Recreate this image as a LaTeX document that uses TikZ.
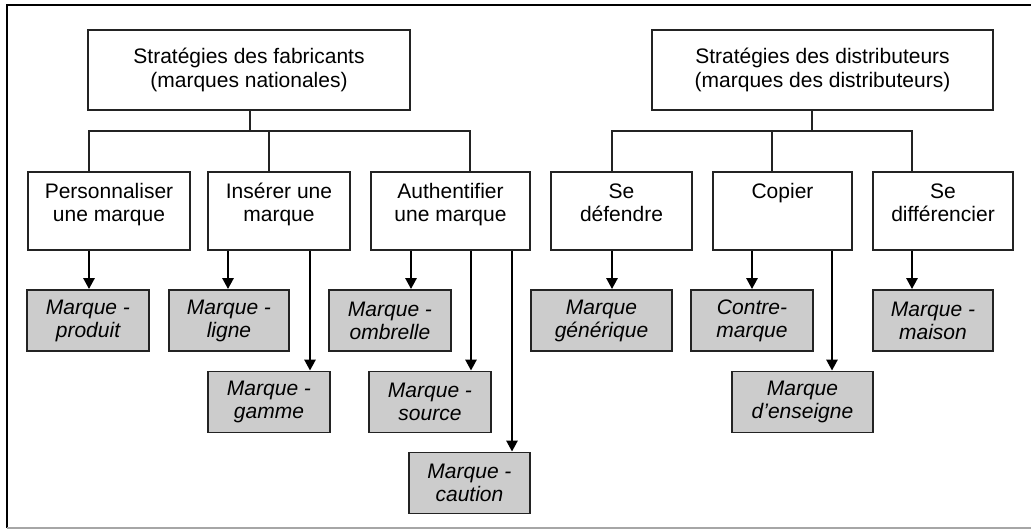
\documentclass[tikz,border=0pt]{standalone}
\usepackage{fontspec}
\setmainfont{Liberation Sans}
\usetikzlibrary{arrows.meta,calc}
\definecolor{boxgray}{RGB}{204,204,204}
\definecolor{edge}{RGB}{35,35,35}
\tikzset{
  topbox/.style={draw=edge,line width=1.6pt,fill=white,inner sep=0pt,align=center,
    font=\fontsize{21}{24}\selectfont},
  midbox/.style={draw=edge,line width=1.6pt,fill=white,inner sep=0pt,minimum height=78pt},
  lbl/.style={inner sep=0pt,align=center,anchor=north,font=\fontsize{21}{23}\selectfont},
  leaf/.style={draw=edge,line width=1.8pt,fill=boxgray,inner sep=0pt,minimum height=61pt,
    align=center,font=\fontsize{21}{23}\selectfont\itshape},
  tree/.style={draw=edge,line width=1.5pt},
  arr/.style={draw=black,line width=2.6pt,-{Triangle[width=11pt,length=11pt]}},
}
\begin{document}
\begin{tikzpicture}[x=1pt,y=-1pt]
\useasboundingbox (0,0) rectangle (1031,529);
% frame
\draw[black,line width=1.6pt] (1031,5) -- (7,5) -- (7,528);
\draw[gray!70,line width=1.6pt] (7,528) -- (1031,528);

% level 1
\node[topbox,minimum width=322pt,minimum height=80pt] (F) at (249,70)
  {Stratégies des fabricants\\(marques nationales)};
\node[topbox,minimum width=341pt,minimum height=80pt] (D) at (822.5,70)
  {Stratégies des distributeurs\\(marques des distributeurs)};

% level 2
\node[midbox,minimum width=162pt] (P) at (109,211) {};
\node[midbox,minimum width=142pt] (I) at (279,211) {};
\node[midbox,minimum width=159pt] (A) at (450.5,211) {};
\node[midbox,minimum width=141pt] (SD) at (621.5,211) {};
\node[midbox,minimum width=139pt] (C) at (782.5,211) {};
\node[midbox,minimum width=140pt] (SF) at (943,211) {};
\node[lbl] (Pt) at ($(P.north)+(0,12)$) {Personnaliser\\une marque};
\node[lbl] (It) at ($(I.north)+(0,12)$) {Insérer une\\marque};
\node[lbl] (At) at ($(A.north)+(0,12)$) {Authentifier\\une marque};
\node[lbl] (SDt) at ($(SD.north)+(0,12)$) {Se\\défendre};
\node[lbl] (Ct) at ($(C.north)+(0,12)$) {Copier};
\node[lbl] (SFt) at ($(SF.north)+(0,12)$) {Se\\différencier};

% level 3
\node[leaf,minimum width=122pt] (produit) at (88,320.5) {Marque -\\produit};
\node[leaf,minimum width=120pt] (ligne) at (229,320.5) {Marque -\\ligne};
\node[leaf,minimum width=122pt] (gamme) at (269,402) {Marque -\\gamme};
\node[leaf,minimum width=122pt] (ombrelle) at (390,320.5) {Marque -\\ombrelle};
\node[leaf,minimum width=122pt] (source) at (430,402) {Marque -\\source};
\node[leaf,minimum width=121pt] (caution) at (469.5,483) {Marque -\\caution};
\node[leaf,minimum width=141pt] (generique) at (601.5,320.5) {Marque\\générique};
\node[leaf,minimum width=122pt] (contre) at (752,320.5) {Contre-\\marque};
\node[leaf,minimum width=141pt] (enseigne) at (802.5,402) {Marque\\d’enseigne};
\node[leaf,minimum width=120pt] (maison) at (933,320.5) {Marque -\\maison};

% tree coordinates
\coordinate (fx) at (250,131);
\coordinate (f1) at (89,131);
\coordinate (f2) at (269,131);
\coordinate (f3) at (470,131);
\coordinate (dx) at (812,131);
\coordinate (d1) at (612,131);
\coordinate (d2) at (772,131);
\coordinate (d3) at (912,131);
\draw[tree] (F.south -| fx) -- (fx);
\draw[tree] (P.north -| f1) -- (f1) -- (f3) -- (A.north -| f3);
\draw[tree] (f2) -- (I.north -| f2);
\draw[tree] (D.south -| dx) -- (dx);
\draw[tree] (SD.north -| d1) -- (d1) -- (d3) -- (SF.north -| d3);
\draw[tree] (d2) -- (C.north -| d2);

% arrows
\coordinate (a1) at (89,0);
\coordinate (a2) at (228,0);
\coordinate (a3) at (310,0);
\coordinate (a4) at (411,0);
\coordinate (a5) at (471,0);
\coordinate (a6) at (512,0);
\coordinate (a7) at (612,0);
\coordinate (a8) at (752,0);
\coordinate (a9) at (832,0);
\coordinate (a10) at (912,0);
\draw[arr] (P.south -| a1) -- (produit.north -| a1);
\draw[arr] (I.south -| a2) -- (ligne.north -| a2);
\draw[arr] (I.south -| a3) -- (gamme.north -| a3);
\draw[arr] (A.south -| a4) -- (ombrelle.north -| a4);
\draw[arr] (A.south -| a5) -- (source.north -| a5);
\draw[arr] (A.south -| a6) -- (caution.north -| a6);
\draw[arr] (SD.south -| a7) -- (generique.north -| a7);
\draw[arr] (C.south -| a8) -- (contre.north -| a8);
\draw[arr] (C.south -| a9) -- (enseigne.north -| a9);
\draw[arr] (SF.south -| a10) -- (maison.north -| a10);
\end{tikzpicture}
\end{document}
